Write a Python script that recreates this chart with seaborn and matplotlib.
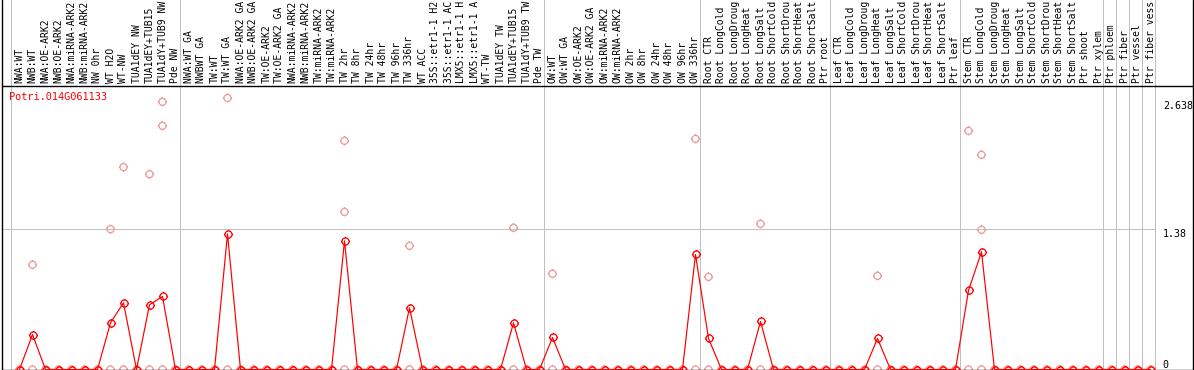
import numpy as np
import pandas as pd
import matplotlib
matplotlib.use("Agg")
import matplotlib.pyplot as plt
import matplotlib.path as mpath
from matplotlib.lines import Line2D
from matplotlib.transforms import blended_transform_factory
import seaborn as sns

# ---------------- data ----------------
gene_name = "Potri.014G061133"

group_nw = ["NWA:WT", "NWB:WT", "NWA:OE-ARK2", "NWB:OE-ARK2", "NWA:miRNA-ARK2",
            "NWB:miRNA-ARK2", "NW 0hr", "WT H2O", "WT-NW", "TUA1dEY NW",
            "TUA1dEY+TUB15 NW", "TUA1dY+TUB9 NW", "Pde NW"]
group_tw = ["NWA:WT GA", "NWBWT GA", "TW:WT", "TW:WT GA", "NWA:OE-ARK2 GA",
            "NWB:OE-ARK2 GA", "TW:OE-ARK2", "TW:OE-ARK2 GA", "NWA:miRNA-ARK2 GA",
            "NWB:miRNA-ARK2 GA", "TW:miRNA-ARK2", "TW:miRNA-ARK2 GA", "TW 2hr",
            "TW 8hr", "TW 24hr", "TW 48hr", "TW 96hr", "TW 336hr", "WT ACC",
            "35S::etr1-1 H2O", "35S::etr1-1 ACC", "LMX5::etr1-1 H2O",
            "LMX5::etr1-1 ACC", "WT-TW", "TUA1dEY TW", "TUA1dEY+TUB15 TW",
            "TUA1dY+TUB9 TW", "Pde TW"]
group_ow = ["OW:WT", "OW:WT GA", "OW:OE-ARK2", "OW:OE-ARK2 GA", "OW:miRNA-ARK2",
            "OW:miRNA-ARK2 GA", "OW 2hr", "OW 8hr", "OW 24hr", "OW 48hr",
            "OW 96hr", "OW 336hr"]
group_root = ["Root CTR", "Root LongCold", "Root LongDrought", "Root LongHeat",
              "Root LongSalt", "Root ShortCold", "Root ShortDrought",
              "Root ShortHeat", "Root ShortSalt", "Ptr root"]
group_leaf = ["Leaf CTR", "Leaf LongCold", "Leaf LongDrought", "Leaf LongHeat",
              "Leaf LongSalt", "Leaf ShortCold", "Leaf ShortDrought",
              "Leaf ShortHeat", "Leaf ShortSalt", "Ptr leaf"]
group_stem = ["Stem CTR", "Stem LongCold", "Stem LongDrought", "Stem LongHeat",
              "Stem LongSalt", "Stem ShortCold", "Stem ShortDrought",
              "Stem ShortHeat", "Stem ShortSalt", "Ptr shoot", "Ptr xylem"]
group_ptr1 = ["Ptr phloem"]
group_ptr2 = ["Ptr fiber"]
group_ptr3 = ["Ptr vessel"]
group_ptr4 = ["Ptr fiber vessel"]

groups = [group_nw, group_tw, group_ow, group_root, group_leaf, group_stem,
          group_ptr1, group_ptr2, group_ptr3, group_ptr4]

# mean expression per sample (red line)
mean_nw = [0, 0.344, 0, 0, 0, 0, 0, 0.459, 0.656, 0, 0.636, 0.718, 0]
mean_tw = [0, 0, 0, 1.334, 0, 0, 0, 0, 0, 0, 0, 0, 1.265, 0, 0, 0, 0, 0.607,
           0, 0, 0, 0, 0, 0, 0, 0.459, 0, 0]
mean_ow = [0.315, 0, 0, 0, 0, 0, 0, 0, 0, 0, 0, 1.131]
mean_root = [0.305, 0, 0, 0, 0.472, 0, 0, 0, 0, 0]
mean_leaf = [0, 0, 0, 0.305, 0, 0, 0, 0, 0, 0]
mean_stem = [0.777, 1.157, 0, 0, 0, 0, 0, 0, 0, 0, 0]
mean_ptr = [0, 0, 0, 0]

# individual replicate values (pink circles): sample label -> values
replicates = {
    "NWB:WT": [1.03, 0],
    "WT H2O": [1.38, 0],
    "WT-NW": [1.99, 0],
    "TUA1dEY+TUB15 NW": [1.92, 0],
    "TUA1dY+TUB9 NW": [2.632, 2.396, 0],
    "TW:WT GA": [2.67, 0],
    "TW 2hr": [2.249, 1.55, 0],
    "TW 336hr": [1.216, 0],
    "TUA1dEY+TUB15 TW": [1.393, 0],
    "OW:WT": [0.941, 0],
    "OW 336hr": [2.268, 0],
    "Root CTR": [0.911, 0],
    "Root LongSalt": [1.432, 0],
    "Leaf LongHeat": [0.921, 0],
    "Stem CTR": [2.347, 0],
    "Stem LongCold": [2.111, 1.374, 0],
}

ytick_values = [2.638, 1.38, 0]
ytick_labels = ["2.638", "1.38", "0"]
grid_value = 1.38
label_chars = 14  # visible characters of each sample label in the header strip

# ---------------- build tables ----------------
labels = [s for g in groups for s in g]
means = mean_nw + mean_tw + mean_ow + mean_root + mean_leaf + mean_stem + mean_ptr
n = len(labels)
df = pd.DataFrame({"pos": np.arange(n), "label": labels, "expr": means})
rep_rows = []
for i, lab in enumerate(labels):
    for v in replicates.get(lab, [0]):
        rep_rows.append((i, v))
rep_df = pd.DataFrame(rep_rows, columns=["pos", "expr"])

# ---------------- figure ----------------
sns.set_style("white")
plt.rcParams["font.family"] = ["DejaVu Sans Mono", "DejaVu Sans"]

W, H, DPI = 1194, 370, 100
fig = plt.figure(figsize=(W / DPI, H / DPI), dpi=DPI)

# layout in pixels
L, R, TOP, BOT = 1.5, 1192.5, 85.5, 369.5
x0_px, step_px, unit_px = 19.5, 13.0, 101.7
ax = fig.add_axes([L / W, (H - BOT) / H, (R - L) / W, (BOT - TOP) / H])
ax.set_xticks([])
ax.set_yticks([])
for s in ax.spines.values():
    s.set_color("black")
    s.set_linewidth(1.0)
ax.spines["left"].set_visible(False)
ax.spines["right"].set_visible(False)

px = 72.0 / DPI  # one pixel in points
gray = "#c0c0c0"
red = "#ff0000"
pink = "#ef9a9a"

xlim = ((L - x0_px) / step_px, (R - x0_px) / step_px)
ylim = (0, (BOT - TOP) / unit_px)

# group separators
bounds = np.concatenate([[0], np.cumsum([len(g) for g in groups])]) - 9.0 / 13.0
ext = 1 + (TOP + 1) / (BOT - TOP)
for b in bounds:
    ax.axvline(b, ymin=0, ymax=ext, color=gray, lw=px, clip_on=False, zorder=1)
ax.hlines(grid_value, xlim[0], bounds[-1], color=gray, lw=px, zorder=1)

# marker: circle with small outward ticks
circ = mpath.Path.circle((0, 0), 1.0)
verts = list(circ.vertices)
codes = list(circ.codes)
for (a, b_, c, d) in [(0, 1, 0, 1.3), (0, -1, 0, -1.3), (1, 0, 1.3, 0), (-1, 0, -1.3, 0)]:
    verts += [(a, b_), (c, d)]
    codes += [mpath.Path.MOVETO, mpath.Path.LINETO]
tick_marker = mpath.Path(verts, codes)
msize = 6.6

sns.scatterplot(data=rep_df, x="pos", y="expr", ax=ax, marker=tick_marker,
                s=msize ** 2, facecolor="none", edgecolor=pink, linewidth=1.3 * px,
                zorder=2, legend=False)
sns.lineplot(data=df, x="pos", y="expr", ax=ax, estimator=None, color=red,
             lw=1.2 * px, marker=tick_marker, markersize=msize,
             markerfacecolor="none", markeredgecolor=red,
             markeredgewidth=1.3 * px, zorder=3, legend=False)
ax.set_xlabel("")
ax.set_ylabel("")
ax.set_xlim(*xlim)
ax.set_ylim(*ylim)

# sample labels above the plot
trans = blended_transform_factory(ax.transData, ax.transAxes)
ylab = 1 + 2.5 / (BOT - TOP)
for i, lab in enumerate(labels):
    ax.text(i, ylab, lab[:label_chars].rstrip(), rotation=90, ha="center",
            va="bottom", fontsize=7.0, color="black", transform=trans,
            clip_on=False)

# value labels on the right
for v, t in zip(ytick_values, ytick_labels):
    ax.text(n - 0.05, v, t, ha="left", va="bottom" if v == 0 else "top",
            fontsize=7.2, color="black", clip_on=False)

# gene name
fig.text(9.5 / W, (H - 97) / H, gene_name, color=red, fontsize=7.4,
         ha="left", va="center")

# outer vertical borders
fig.add_artist(Line2D([L / W, L / W], [0, 1], color="black", lw=1.0,
                      transform=fig.transFigure))
fig.add_artist(Line2D([R / W, R / W], [0, 1], color="black", lw=1.0,
                      transform=fig.transFigure))

fig.savefig("out.png", dpi=DPI)
